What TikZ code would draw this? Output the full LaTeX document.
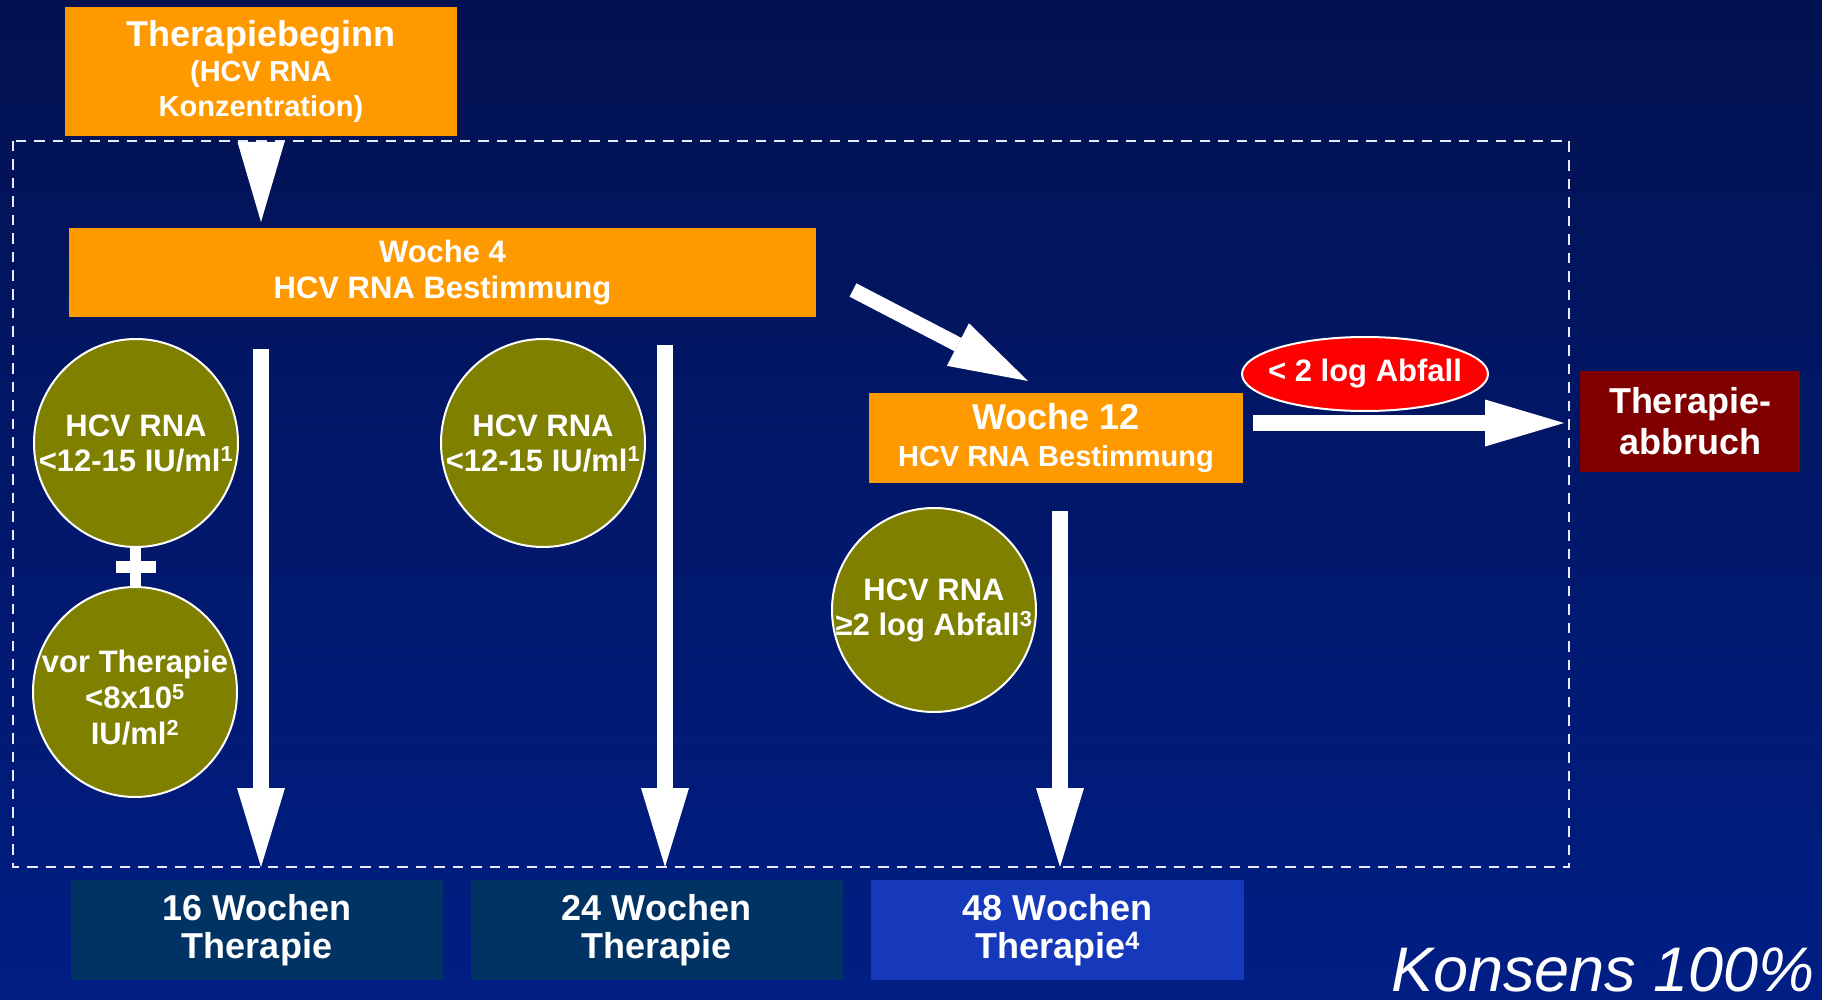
\documentclass[tikz,border=0pt]{standalone}
\usepackage{fontspec}
\setmainfont{Liberation Sans}
\usetikzlibrary{shapes.geometric,arrows.meta,calc}
\definecolor{bgtop}{HTML}{021150}
\definecolor{bgbot}{HTML}{001E84}
\definecolor{orng}{HTML}{FF9900}
\definecolor{olv}{HTML}{808000}
\definecolor{rd}{HTML}{FF0000}
\definecolor{drd}{HTML}{800000}
\definecolor{teal}{HTML}{003263}
\definecolor{blu}{HTML}{1539BA}
\begin{document}
\begin{tikzpicture}[x=1pt,y=-1pt,
  box/.style={rectangle,inner sep=0pt,text=white,align=center},
  orangebox/.style={box,fill=orng},
  circ/.style={ellipse,fill=olv,draw=white,line width=2pt,inner sep=0pt},
  circtext/.style={inner sep=0pt,text=white,align=center,font=\bfseries\fontsize{31}{35}\selectfont},
  bigarrow/.style={draw=white,line width=16pt,-{Triangle[length=79pt,width=48pt,line width=0pt]}},
  resbox/.style={box,minimum width=372pt,minimum height=100pt,font=\bfseries\fontsize{36}{38}\selectfont}]
\useasboundingbox (0,0) rectangle (1822,1000);
\shade[top color=bgtop,bottom color=bgbot] (0,0) rectangle (1822,1000);
% dashed frame
\draw[white!92!blue,line width=2.2pt,dash pattern=on 10.5pt off 8pt] (13,141) rectangle (1569,867);
% boxes
\node[orangebox,minimum width=392pt,minimum height=129pt,font=\bfseries\fontsize{29}{35}\selectfont] (tb) at (261,71.5)
  {{\fontsize{36}{35}\selectfont Therapiebeginn}\\(HCV RNA\\Konzentration)};
\node[orangebox,minimum width=747pt,minimum height=89pt,font=\bfseries\fontsize{31}{36}\selectfont] (w4) at (442.5,272.5)
  {Woche 4\\HCV RNA Bestimmung};
\node[orangebox,minimum width=374pt,minimum height=90pt,font=\bfseries\fontsize{29}{37}\selectfont] (w12) at (1056,438)
  {{\fontsize{36}{37}\selectfont Woche 12}\\HCV RNA Bestimmung};
\node[box,fill=drd,minimum width=220pt,minimum height=101pt,font=\bfseries\fontsize{36}{41}\selectfont] (ab) at (1690,421.5)
  {Therapie-\\abbruch};
\node[ellipse,fill=rd,draw=white,line width=2pt,minimum width=246pt,minimum height=74pt,inner sep=0pt] (lg) at (1365,374) {};
\node[circtext] (lgt) at (lg) {< 2 log Abfall};
% circles
\node[circ,minimum width=204pt,minimum height=208pt] (c1) at (136,443) {};
\node[circtext] (c1t) at (c1) {HCV RNA\\<12-15 IU/ml\textsuperscript{1}};
\node[circ,minimum width=204pt,minimum height=210pt] (c2) at (135,692) {};
\node[circtext,font=\bfseries\fontsize{31}{36}\selectfont] (c2t) at ($(c2)+(0,6)$) {vor Therapie\\<8x10\textsuperscript{5}\\IU/ml\textsuperscript{2}};
\node[circ,minimum width=204pt,minimum height=208pt] (c3) at (543,443) {};
\node[circtext] (c3t) at (c3) {HCV RNA\\<12-15 IU/ml\textsuperscript{1}};
\node[circ,minimum width=204pt,minimum height=204pt] (c4) at (934,610) {};
\node[circtext] (c4t) at (c4) {HCV RNA\\≥2 log Abfall\textsuperscript{3}};
% plus sign
\fill[white] ($(c1.south)+(-6,0)$) rectangle ($(c2.north)+(6,0)$);
\fill[white] ($(c1.south)!0.5!(c2.north)+(-20,-6)$) rectangle ($(c1.south)!0.5!(c2.north)+(20,6)$);
% result boxes
\node[resbox,fill=teal] (r1) at (257,930) {16 Wochen\\Therapie};
\node[resbox,fill=teal] (r2) at (656.5,930) {24 Wochen\\Therapie};
\node[resbox,fill=blu,minimum width=373pt] (r3) at (1057.5,930) {48 Wochen\\Therapie\textsuperscript{4}};
\node[anchor=base east,text=white,font=\itshape\fontsize{63}{64}\selectfont,inner sep=0pt] (ks) at (1815,991) {Konsens 100\%};
% arrows
\coordinate (ta) at (261,142);
\coordinate (tz) at (261,222);
\draw[white,line width=0.01pt,-{Triangle[length=80pt,width=47pt,line width=0pt]}] (ta) -- (tz);
\coordinate (d0) at (853,290);
\coordinate (d1) at (1028,381);
\draw[bigarrow,line width=15pt] (d0) -- (d1);
\coordinate (h0) at (1253,423);
\coordinate (h1) at (1564,423);
\draw[bigarrow,-{Triangle[length=79pt,width=47pt,line width=0pt]}] (h0) -- (h1);
\coordinate (s1) at (261,349);
\coordinate (e1) at (261,867);
\coordinate (s2) at (665,345);
\coordinate (e2) at (665,867);
\coordinate (s3) at (1060,511);
\coordinate (e3) at (1060,867);
\draw[bigarrow] (s1) -- (e1);
\draw[bigarrow] (s2) -- (e2);
\draw[bigarrow] (s3) -- (e3);
\end{tikzpicture}
\end{document}
